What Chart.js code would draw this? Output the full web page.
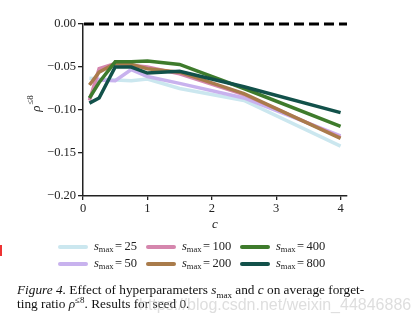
<!DOCTYPE html>
<html>
<head>
<meta charset="utf-8">
<script src="https://cdn.jsdelivr.net/npm/chart.js@4.4.0/dist/chart.umd.min.js"></script>
<style>
body { margin: 0; background: #fff; }
#wrap { position: relative; width: 417px; height: 327px; overflow: hidden; }
#caption { position: absolute; left: 17px; top: 283px; width: 400px; font-family: "Liberation Serif", serif; font-size: 13.3px; line-height: 14px; color: #111; white-space: nowrap; }
#caption sub, #caption sup { font-size: 9px; line-height: 0; }
#mark { position: absolute; left: 139px; top: 296px; font-family: "Liberation Sans", sans-serif; font-size: 16px; color: rgba(190,190,190,0.5); white-space: nowrap; }
#red { position: absolute; left: 0; top: 245px; width: 2px; height: 11px; background: #e33; }
</style>
</head>
<body>
<div id="wrap">
<canvas id="myChart" width="417" height="327"></canvas>
<div id="red"></div>
<div id="caption"><i>Figure 4.</i> Effect of hyperparameters <i>s</i><sub>max</sub> and <i>c</i> on average forget-<br>ting ratio <i>ρ</i><sup>≤8</sup>. Results for seed 0.</div>
<div id="mark">https://blog.csdn.net/weixin_44846886</div>
</div>
<script>
// c values on the x axis
var cValues = [0.1, 0.25, 0.5, 0.75, 1, 1.5, 2.5, 4];
var sMax = [25, 50, 100, 200, 400, 800];
// average forgetting ratio for each s_max
var rho25 = [-0.063, -0.064, -0.065, -0.066, -0.064, -0.075, -0.089, -0.142];
var rho50 = [-0.087, -0.065, -0.066, -0.053, -0.061, -0.069, -0.086, -0.130];
var rho100 = [-0.089, -0.052, -0.046, -0.048, -0.050, -0.058, -0.082, -0.132];
var rho200 = [-0.071, -0.056, -0.046, -0.047, -0.052, -0.056, -0.081, -0.133];
var rho400 = [-0.086, -0.068, -0.044, -0.044, -0.043, -0.047, -0.075, -0.119];
var rho800 = [-0.092, -0.086, -0.050, -0.050, -0.057, -0.055, -0.073, -0.103];
var xTicks = [0, 1, 2, 3, 4];
var yTicks = [0, -0.05, -0.1, -0.15, -0.2];

var colors = ['#cbe7ef', '#c8b2ee', '#d586ad', '#a97b4b', '#3e7b2c', '#12514a'];
var allRho = [rho25, rho50, rho100, rho200, rho400, rho800];

var datasets = [];
sMax.forEach(function(s, i) {
	datasets.push({
		label: 's_max = ' + s,
		data: cValues.map(function(c, j) { return { x: c, y: allRho[i][j] }; }),
		borderColor: colors[i],
		backgroundColor: colors[i],
		borderWidth: 3.5,
		pointRadius: 0,
		tension: 0,
		order: 6 - i // later series on top
	});
});

var serif = '"Liberation Serif", serif';

var extras = {
	id: 'extras',
	beforeDatasetsDraw: function(chart) {
		var ctx = chart.ctx, a = chart.chartArea;
		var y0 = chart.scales.y.getPixelForValue(0);
		ctx.save();
		ctx.strokeStyle = '#000';
		ctx.lineWidth = 3;
		ctx.setLineDash([10, 5]);
		ctx.beginPath();
		ctx.moveTo(a.left + 1, y0);
		ctx.lineTo(a.right, y0);
		ctx.stroke();
		ctx.restore();
	},
	afterDraw: function(chart) {
		var ctx = chart.ctx, a = chart.chartArea;
		ctx.save();
		ctx.fillStyle = '#222';
		// x title
		ctx.font = 'italic 13px ' + serif;
		ctx.textAlign = 'center';
		ctx.textBaseline = 'middle';
		ctx.fillText('c', (a.left + a.right) / 2, 225);
		// y title
		ctx.translate(37, (a.top + a.bottom) / 2 - 6);
		ctx.rotate(-Math.PI / 2);
		ctx.textAlign = 'left';
		ctx.font = 'italic 13px ' + serif;
		var w1 = ctx.measureText('ρ').width;
		ctx.font = '9px ' + serif;
		var w2 = ctx.measureText('≤8').width;
		var sx = -(w1 + w2) / 2;
		ctx.font = 'italic 13px ' + serif;
		ctx.fillText('ρ', sx, 0);
		ctx.font = '9px ' + serif;
		ctx.fillText('≤8', sx + w1 + 1, -6);
		ctx.restore();

		// legend, column by column
		var colX = [60, 148, 242];
		var rowY = [247, 264];
		ctx.save();
		ctx.textBaseline = 'middle';
		ctx.fillStyle = '#222';
		chart.data.datasets.forEach(function(ds, i) {
			var x = colX[Math.floor(i / 2)];
			var y = rowY[i % 2];
			ctx.strokeStyle = ds.borderColor;
			ctx.lineWidth = 4;
			ctx.lineCap = 'round';
			ctx.beginPath();
			ctx.moveTo(x, y);
			ctx.lineTo(x + 26, y);
			ctx.stroke();
			var tx = x + 34;
			ctx.font = 'italic 12.5px ' + serif;
			ctx.fillText('s', tx, y);
			tx += ctx.measureText('s').width;
			ctx.font = '8.5px ' + serif;
			ctx.fillText('max', tx, y + 3);
			tx += ctx.measureText('max').width + 1.5;
			ctx.font = '12.5px ' + serif;
			ctx.fillText('=\u2009' + sMax[i], tx, y);
		});
		ctx.restore();
	}
};

var ctx = document.getElementById('myChart').getContext('2d');
var chart = new Chart(ctx, {
	type: 'line',
	data: { datasets: datasets },
	plugins: [extras],
	options: {
		responsive: false,
		animation: false,
		devicePixelRatio: 1,
		layout: { padding: { left: 0, top: 24, right: 70, bottom: 111 } },
		plugins: { legend: { display: false }, tooltip: { enabled: false } },
		scales: {
			x: {
				type: 'linear',
				min: 0,
				max: 4.1,
				afterBuildTicks: function(s) { s.ticks = xTicks.map(function(v) { return { value: v }; }); },
				afterFit: function(s) { s.height = 20; },
				ticks: { font: { family: serif, size: 12.5 }, color: '#222', padding: 1, maxRotation: 0,
					callback: function(v) { return String(v); } },
				grid: { drawOnChartArea: false, drawTicks: true, tickLength: 4, color: '#222', lineWidth: 1.3 },
				border: { color: '#222', width: 1.5 }
			},
			y: {
				min: -0.2,
				max: 0,
				afterBuildTicks: function(s) { s.ticks = yTicks.map(function(v) { return { value: v }; }); },
				afterFit: function(s) { s.width = 83; },
				ticks: { font: { family: serif, size: 12.5 }, color: '#222', padding: 2,
					callback: function(v) {
						var r = Math.round(v * 100) / 100;
						return (r < 0 ? '\u2212' : '') + Math.abs(r).toFixed(2);
					} },
				grid: { drawOnChartArea: false, drawTicks: true, tickLength: 5, color: '#222', lineWidth: 1.3 },
				border: { color: '#222', width: 1.5 }
			}
		}
	}
});
</script>
</body>
</html>
